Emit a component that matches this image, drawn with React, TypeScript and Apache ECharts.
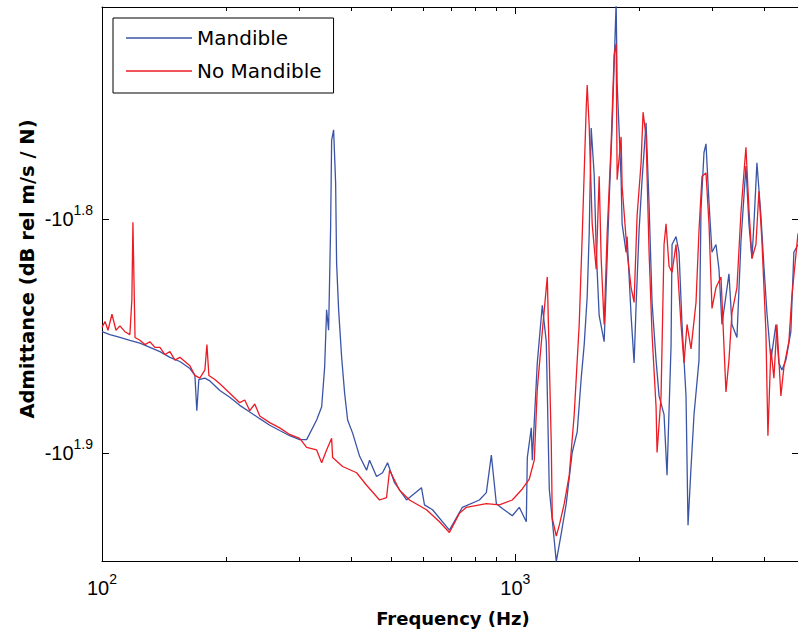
import React, { useEffect, useRef } from "react";
import * as echarts from "echarts";

// ---- Data (frequency in Hz, admittance in dB rel m/s / N) ----
const MANDIBLE_FREQ = [
  100, 104.5, 110.5, 116.8, 123.5, 130.6, 138.1, 146.0, 154.3, 163.2,
  167.8, 169.6, 171.5, 177.4, 182.4, 192.8, 203.8, 215.4, 227.8, 240.8,
  254.6, 269.1, 284.5, 300.8, 312.7, 330.6, 340.0, 345.7, 349.5, 353.4,
  357.4, 359.4, 363.4, 367.5, 369.5, 373.7, 380.0, 386.4, 392.9, 404.0,
  420.1, 436.7, 444.0, 461.6, 477.3, 490.8, 510.3, 545.5, 592.9, 602.9,
  630.5, 692.8, 744.6, 818.5, 851.0, 875.0, 899.7, 930.3, 983.4, 1022.5,
  1063.1, 1069.1, 1093.1, 1099.2, 1130.2, 1162.1, 1188.3, 1208.3, 1242.4, 1256.3,
  1291.5, 1328.0, 1373.0, 1411.7, 1443.5, 1467.8, 1492.5, 1509.2, 1526.1, 1551.8,
  1569.1, 1595.5, 1640.3, 1658.7, 1686.6, 1715.0, 1753.6, 1763.4, 1802.9, 1813.0,
  1853.8, 1864.1, 1906.1, 1938.1, 1959.8, 1992.8, 2026.3, 2071.9, 2106.8, 2142.2,
  2190.4, 2227.3, 2290.1, 2328.6, 2381.1, 2394.4, 2448.3, 2489.5, 2531.4, 2588.3,
  2617.3, 2661.3, 2706.1, 2782.6, 2813.7, 2861.1, 2893.1, 2941.8, 2991.3, 3058.6,
  3110.0, 3162.3, 3287.9, 3343.2, 3437.5, 3515.2, 3614.1, 3675.0, 3736.8, 3778.6,
  3842.1, 3928.6, 3994.8, 4062.0, 4153.4, 4270.5, 4342.4, 4415.5, 4514.9, 4641.6,
  4719.8, 4830,
];
const MANDIBLE_DB = [
  -70.5, -70.7, -70.9, -71.1, -71.3, -71.6, -71.9, -72.3, -72.6, -73.1,
  -73.6, -76.2, -73.9, -73.8, -74.0, -74.7, -75.2, -75.8, -76.3, -76.8,
  -77.3, -77.7, -78.1, -78.4, -78.4, -76.9, -75.9, -73.0, -69.0, -70.4,
  -63.6, -58.4, -57.8, -60.9, -65.9, -69.0, -72.3, -74.9, -76.9, -77.9,
  -79.7, -80.8, -80.0, -81.3, -81.0, -80.2, -81.8, -83.2, -82.2, -83.6,
  -84.0, -85.7, -83.8, -83.2, -82.6, -79.6, -83.5, -83.9, -84.5, -83.8,
  -85.0, -79.8, -77.5, -80.0, -72.7, -68.7, -71.2, -82.3, -86.6, -88.4,
  -86.0, -83.5, -79.4, -77.8, -73.8, -71.4, -68.1, -64.0, -57.7, -60.4,
  -65.0, -69.4, -71.2, -67.5, -62.0, -57.6, -51.0, -55.2, -60.7, -63.4,
  -65.2, -64.2, -69.4, -72.7, -68.7, -63.8, -60.7, -57.4, -62.2, -68.5,
  -72.5, -75.1, -76.5, -81.2, -71.5, -64.7, -64.2, -65.2, -70.0, -75.1,
  -85.3, -80.6, -76.5, -72.5, -62.5, -59.1, -58.6, -62.1, -65.2, -64.7,
  -66.3, -70.0, -66.6, -70.0, -70.9, -64.5, -59.9, -63.4, -65.6, -63.4,
  -59.7, -62.9, -66.1, -69.2, -72.5, -70.0, -72.7, -73.2, -72.5, -70.5,
  -65.2, -64.7,
];

const NO_MANDIBLE_FREQ = [
  100, 101.7, 103.4, 105.7, 108.1, 110.5, 113.6, 116.8, 118.1, 118.8,
  119.5, 120.2, 123.5, 127.0, 130.6, 134.3, 138.1, 142.0, 146.0, 150.1,
  154.3, 158.7, 163.2, 167.8, 172.5, 177.4, 179.4, 181.4, 187.5, 192.8,
  203.8, 215.4, 221.5, 227.8, 234.2, 240.8, 254.6, 269.1, 284.5, 300.8,
  312.7, 330.6, 340.0, 349.5, 359.4, 361.4, 382.1, 413.0, 436.7, 469.4,
  488.0, 496.3, 524.7, 554.6, 609.7, 655.4, 692.8, 732.4, 761.4, 851.0,
  914.9, 983.4, 1039.7, 1081.0, 1111.5, 1130.2, 1162.1, 1194.9, 1208.3, 1221.8,
  1228.6, 1256.3, 1277.4, 1313.3, 1350.3, 1388.3, 1427.5, 1451.5, 1484.2, 1492.5,
  1509.2, 1534.6, 1569.1, 1595.5, 1613.3, 1640.3, 1668.0, 1705.5, 1734.2, 1753.6,
  1763.4, 1802.9, 1813.0, 1864.1, 1906.1, 1938.1, 1970.8, 2015.1, 2037.6, 2071.9,
  2106.8, 2142.2, 2190.4, 2202.7, 2252.2, 2290.1, 2315.7, 2354.7, 2394.4, 2448.3,
  2517.3, 2559.7, 2602.8, 2661.3, 2736.4, 2782.6, 2829.4, 2893.1, 2941.8, 2991.3,
  3058.6, 3144.8, 3233.4, 3287.9, 3343.2, 3437.5, 3515.2, 3574.2, 3614.1, 3675.0,
  3736.8, 3820.9, 3885.1, 3950.6, 4039.5, 4084.7, 4153.4, 4223.3, 4294.3, 4391.0,
  4464.9, 4590.9, 4667.5, 4830,
];
const NO_MANDIBLE_DB = [
  -70.2, -69.8, -70.4, -69.3, -70.4, -70.1, -70.5, -70.7, -68.3, -63.3,
  -67.0, -70.9, -71.1, -71.4, -71.2, -71.6, -71.6, -72.1, -71.9, -72.5,
  -72.3, -72.6, -72.9, -73.6, -73.8, -73.2, -71.4, -73.6, -73.9, -74.2,
  -74.9, -75.6, -75.4, -76.2, -75.7, -76.6, -77.1, -77.5, -78.0, -78.3,
  -79.0, -79.2, -80.2, -79.2, -78.3, -79.8, -80.5, -81.0, -82.0, -83.2,
  -83.0, -80.8, -82.4, -83.2, -84.0, -85.0, -85.9, -84.3, -83.8, -83.5,
  -83.6, -83.2, -82.3, -81.5, -80.0, -74.6, -70.5, -66.8, -72.5, -78.7,
  -84.7, -86.2, -85.3, -83.5, -81.2, -76.5, -70.0, -64.2, -56.6, -55.3,
  -57.6, -63.4, -66.3, -60.5, -65.6, -70.0, -64.0, -58.6, -53.7, -53.1,
  -60.7, -58.2, -61.1, -65.2, -67.5, -68.5, -62.9, -59.7, -56.8, -58.2,
  -65.2, -70.7, -75.9, -79.4, -75.1, -64.7, -63.4, -66.1, -66.5, -64.7,
  -70.0, -72.7, -70.0, -71.7, -68.5, -63.8, -60.5, -60.3, -63.4, -68.9,
  -67.5, -66.8, -74.8, -72.5, -69.2, -67.5, -62.7, -60.3, -58.8, -62.5,
  -65.6, -64.7, -61.4, -64.5, -70.5, -78.1, -71.7, -73.8, -70.0, -75.1,
  -73.0, -71.2, -68.1, -64.0,
];

const SERIES_NAMES = ["Mandible", "No Mandible"];

// Axis ticks (x in Hz, y as exponents of the magnitude)
const X_MAJOR_TICKS = [100, 1000];
const X_MINOR_TICKS = [200, 300, 400, 500, 600, 700, 800, 900, 2000, 3000, 4000];
const Y_TICK_EXPONENTS = [1.8, 1.9];
const X_RANGE = [100, 4830];
const Y_EXPONENT_RANGE = [1.7094, 1.9462];

const BLUE = "#3b55a6";
const RED = "#ec1c24";
const LABEL_FONT = "Liberation Sans";
const TITLE_FONT = "DejaVu Sans";

export default function App() {
  const ref = useRef<HTMLDivElement>(null);

  useEffect(() => {
    if (!ref.current) return;
    const chart = echarts.init(ref.current, undefined, { renderer: "svg" });

    const yTicks = Y_TICK_EXPONENTS.map((e) => Math.pow(10, e));
    const yMin = Math.pow(10, Y_EXPONENT_RANGE[0]);
    const yMax = Math.pow(10, Y_EXPONENT_RANGE[1]);
    const rich = {
      sup: {
        fontSize: 14,
        fontFamily: LABEL_FONT,
        color: "#000",
        verticalAlign: "top",
      },
    };
    const black = { color: "#000", width: 1 };

    const baseX: any = {
      type: "log",
      logBase: 10,
      min: X_RANGE[0],
      max: X_RANGE[1],
      gridIndex: 0,
      splitLine: { show: false },
      axisLine: { show: false, onZero: false },
      axisTick: { show: false },
      axisLabel: { show: false },
    };
    const baseY: any = {
      type: "log",
      logBase: 10,
      min: yMin,
      max: yMax,
      inverse: true,
      gridIndex: 0,
      splitLine: { show: false },
      axisLine: { show: false, onZero: false },
      axisTick: { show: false },
      axisLabel: { show: false },
    };

    const toPoints = (fs: number[], dbs: number[]) =>
      fs.map((f, i) => [f, -dbs[i]]);

    chart.setOption({
      animation: false,
      backgroundColor: "#fff",
      grid: { left: 102, top: 7, right: -1, bottom: 69, containLabel: false },
      legend: {
        data: SERIES_NAMES,
        orient: "vertical",
        left: 113,
        top: 18,
        padding: [10, 12, 12, 13],
        itemGap: 13,
        itemWidth: 66,
        itemHeight: 1.5,
        icon: "rect",
        borderColor: "#000",
        borderWidth: 1,
        backgroundColor: "#fff",
        selectedMode: false,
        textStyle: {
          fontSize: 20,
          fontFamily: TITLE_FONT,
          color: "#000",
          width: 127,
        },
      },
      xAxis: [
        {
          ...baseX,
          position: "bottom",
          axisLine: { show: true, onZero: false, lineStyle: black },
          axisTick: {
            show: true,
            inside: true,
            length: 7,
            customValues: X_MAJOR_TICKS,
            lineStyle: black,
          },
          axisLabel: {
            show: true,
            customValues: X_MAJOR_TICKS,
            margin: 11,
            fontSize: 20,
            lineHeight: 32,
            fontFamily: LABEL_FONT,
            color: "#000",
            formatter: (v: number) => `10{sup|${Math.round(Math.log10(v))}}`,
            rich,
          },
        },
        {
          ...baseX,
          position: "bottom",
          axisTick: {
            show: true,
            inside: true,
            length: 4,
            customValues: X_MINOR_TICKS,
            lineStyle: black,
          },
        },
        {
          ...baseX,
          position: "top",
          axisLine: { show: true, onZero: false, lineStyle: black },
          axisTick: {
            show: true,
            inside: true,
            length: 7,
            customValues: X_MAJOR_TICKS,
            lineStyle: black,
          },
        },
        {
          ...baseX,
          position: "top",
          axisTick: {
            show: true,
            inside: true,
            length: 4,
            customValues: X_MINOR_TICKS,
            lineStyle: black,
          },
        },
      ],
      yAxis: [
        {
          ...baseY,
          position: "left",
          axisLine: { show: true, onZero: false, lineStyle: black },
          axisTick: {
            show: true,
            inside: true,
            length: 7,
            customValues: yTicks,
            lineStyle: black,
          },
          axisLabel: {
            show: true,
            customValues: yTicks,
            margin: 9,
            fontSize: 20,
            lineHeight: 32,
            fontFamily: LABEL_FONT,
            color: "#000",
            formatter: (v: number) => `-10{sup|${Math.log10(v).toFixed(1)}}`,
            rich,
          },
        },
        {
          ...baseY,
          position: "right",
          axisLine: { show: true, onZero: false, lineStyle: black },
          axisTick: {
            show: true,
            inside: true,
            length: 6,
            customValues: yTicks,
            lineStyle: black,
          },
        },
      ],
      graphic: [
        {
          type: "text",
          x: 453,
          y: 618,
          style: {
            text: "Frequency (Hz)",
            fontSize: 18,
            fontWeight: "bold",
            fontFamily: TITLE_FONT,
            fill: "#000",
            align: "center",
            verticalAlign: "middle",
          },
        },
        {
          type: "text",
          x: 27,
          y: 269,
          rotation: Math.PI / 2,
          style: {
            text: "Admittance (dB rel m/s / N)",
            fontSize: 19.5,
            fontWeight: "bold",
            fontFamily: TITLE_FONT,
            fill: "#000",
            align: "center",
            verticalAlign: "middle",
          },
        },
      ],
      series: [
        {
          name: SERIES_NAMES[0],
          type: "line",
          xAxisIndex: 0,
          yAxisIndex: 0,
          symbol: "none",
          color: BLUE,
          lineStyle: { color: BLUE, width: 1.3 },
          data: toPoints(MANDIBLE_FREQ, MANDIBLE_DB),
        },
        {
          name: SERIES_NAMES[1],
          type: "line",
          xAxisIndex: 0,
          yAxisIndex: 0,
          symbol: "none",
          color: RED,
          lineStyle: { color: RED, width: 1.3 },
          data: toPoints(NO_MANDIBLE_FREQ, NO_MANDIBLE_DB),
        },
      ],
    });

    return () => chart.dispose();
  }, []);

  return (
    <div
      ref={ref}
      style={{ position: "absolute", left: 0, top: 0, width: 798, height: 630 }}
    />
  );
}
